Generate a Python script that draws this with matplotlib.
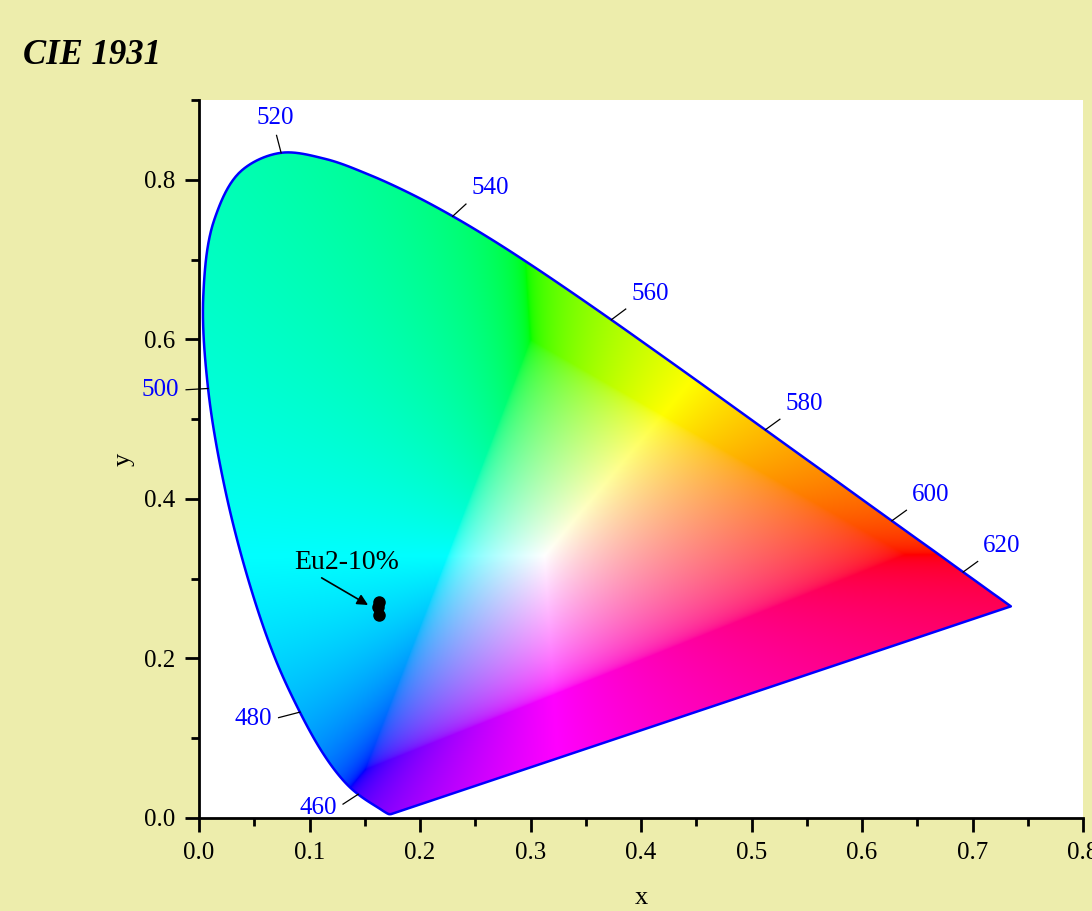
import numpy as np
import matplotlib
matplotlib.use("Agg")
import matplotlib.pyplot as plt
from matplotlib.patches import Polygon
from matplotlib.ticker import MultipleLocator

plt.rcParams["font.family"] = ["Liberation Serif", "DejaVu Serif"]

# CIE 1931 2-degree spectral locus, 380-700 nm in 5 nm steps
wavelengths = list(range(380, 705, 5))
locus_x = [0.1741, 0.1740, 0.1738, 0.1736, 0.1733, 0.1730, 0.1726, 0.1721,
           0.1714, 0.1703, 0.1689, 0.1669, 0.1644, 0.1611, 0.1566, 0.1510,
           0.1440, 0.1355, 0.1241, 0.1096, 0.0913, 0.0687, 0.0454, 0.0235,
           0.0082, 0.0039, 0.0139, 0.0389, 0.0743, 0.1142, 0.1547, 0.1929,
           0.2296, 0.2658, 0.3016, 0.3373, 0.3731, 0.4087, 0.4441, 0.4788,
           0.5125, 0.5448, 0.5752, 0.6029, 0.6270, 0.6482, 0.6658, 0.6801,
           0.6915, 0.7006, 0.7079, 0.7140, 0.7190, 0.7230, 0.7260, 0.7283,
           0.7300, 0.7311, 0.7320, 0.7327, 0.7334, 0.7340, 0.7344, 0.7346,
           0.7347]
locus_y = [0.0050, 0.0050, 0.0049, 0.0049, 0.0048, 0.0048, 0.0048, 0.0048,
           0.0051, 0.0058, 0.0069, 0.0086, 0.0109, 0.0138, 0.0177, 0.0227,
           0.0297, 0.0399, 0.0578, 0.0868, 0.1327, 0.2007, 0.2950, 0.4127,
           0.5384, 0.6548, 0.7502, 0.8120, 0.8338, 0.8262, 0.8059, 0.7816,
           0.7543, 0.7243, 0.6923, 0.6589, 0.6245, 0.5896, 0.5547, 0.5202,
           0.4866, 0.4544, 0.4242, 0.3965, 0.3725, 0.3514, 0.3340, 0.3197,
           0.3083, 0.2993, 0.2920, 0.2859, 0.2809, 0.2770, 0.2740, 0.2717,
           0.2700, 0.2689, 0.2680, 0.2673, 0.2666, 0.2660, 0.2656, 0.2654,
           0.2653]
label_wavelengths = [460, 480, 500, 520, 540, 560, 580, 600, 620]

# Measured chromaticity coordinates
sample_x = [0.163, 0.162, 0.163]
sample_y = [0.271, 0.265, 0.254]
sample_label = "Eu2-10%"

BG = "#EDEDAC"
W, H = 1092, 911


def catmull_rom(px, py, steps=12, alpha=0.5):
    """Centripetal Catmull-Rom path through the given points."""
    P = np.column_stack([px, py]).astype(float)
    P = np.vstack([2 * P[0] - P[1], P, 2 * P[-1] - P[-2]])
    out = [P[1]]
    for k in range(1, len(P) - 2):
        p0, p1, p2, p3 = P[k - 1], P[k], P[k + 1], P[k + 2]
        t0 = 0.0
        t1 = t0 + max(np.linalg.norm(p1 - p0), 1e-9) ** alpha
        t2 = t1 + max(np.linalg.norm(p2 - p1), 1e-9) ** alpha
        t3 = t2 + max(np.linalg.norm(p3 - p2), 1e-9) ** alpha
        for t in np.linspace(t1, t2, steps + 1)[1:]:
            a1 = (t1 - t) / (t1 - t0) * p0 + (t - t0) / (t1 - t0) * p1
            a2 = (t2 - t) / (t2 - t1) * p1 + (t - t1) / (t2 - t1) * p2
            a3 = (t3 - t) / (t3 - t2) * p2 + (t - t2) / (t3 - t2) * p3
            b1 = (t2 - t) / (t2 - t0) * a1 + (t - t0) / (t2 - t0) * a2
            b2 = (t3 - t) / (t3 - t1) * a2 + (t - t1) / (t3 - t1) * a3
            out.append((t2 - t) / (t2 - t1) * b1 + (t - t1) / (t2 - t1) * b2)
    return np.array(out)


fig = plt.figure(figsize=(W / 100, H / 100), dpi=100, facecolor=BG)
ax = fig.add_axes([199 / W, 1 - 818 / H, (1083 - 199) / W, (818 - 100) / H])
ax.set_xlim(0, 0.8)
ax.set_ylim(0, 0.9)
ax.set_facecolor("white")

# Colour field: xy -> XYZ (Y=1) -> linear sRGB, desaturated with white
# until in gamut, normalised, gamma encoded
gx = np.linspace(0, 0.8, 800)
gy = np.linspace(0, 0.9, 900)
GX, GY = np.meshgrid(gx, gy)
GYc = np.maximum(GY, 1e-3)
XYZ = np.stack([GX / GYc, np.ones_like(GX), (1 - GX - GY) / GYc], axis=-1)
M = np.array([[3.2406, -1.5372, -0.4986],
              [-0.9689, 1.8758, 0.0415],
              [0.0557, -0.2040, 1.0570]])
rgb = XYZ @ M.T
rgb = rgb - np.minimum(rgb.min(axis=-1, keepdims=True), 0)
rgb = rgb / np.clip(rgb.max(axis=-1, keepdims=True), 1e-9, None)
rgb = np.clip(rgb, 0, 1)
rgb = np.where(rgb <= 0.0031308, 12.92 * rgb, 1.055 * rgb ** (1 / 2.4) - 0.055)
rgb = np.clip(rgb, 0, 1)

im = ax.imshow(rgb, origin="lower", extent=(0, 0.8, 0, 0.9),
               interpolation="bilinear", aspect="auto", zorder=1)
outline = catmull_rom(locus_x, locus_y)
locus = Polygon(outline, closed=True, facecolor="none", edgecolor="#0000FF",
                lw=1.8, joinstyle="round", zorder=2)
ax.add_patch(locus)
im.set_clip_path(locus)

# Wavelength ticks and labels along the outward normal of the locus
trans = ax.transData
inv = trans.inverted()
lx = np.array(locus_x)
ly = np.array(locus_y)
for wl in label_wavelengths:
    i = wavelengths.index(wl)
    tx = lx[i + 1] - lx[i - 1]
    ty = ly[i + 1] - ly[i - 1]
    nd = np.array([-ty, tx]) / np.hypot(tx, ty)
    p0 = trans.transform((lx[i], ly[i]))
    p1 = trans.transform((lx[i] + nd[0] * 1e-3, ly[i] + nd[1] * 1e-3))
    n = (p1 - p0) / np.hypot(*(p1 - p0))
    tick_len = 18 if n[0] > -0.95 else 22
    end = inv.transform(p0 + n * tick_len)
    ax.plot([lx[i], end[0]], [ly[i], end[1]], color="black", lw=0.9,
            clip_on=False, zorder=3)
    ha = "left" if n[0] > 0.5 else ("right" if n[0] < -0.5 else "center")
    va = "bottom" if n[1] > 0.5 else ("top" if n[1] < -0.7 else "center")
    dist = tick_len + 7
    ax.annotate(str(wl), xy=(lx[i], ly[i]), xytext=(n[0] * dist, n[1] * dist),
                textcoords="offset pixels", ha=ha, va=va, color="#0000FF",
                fontsize=18, annotation_clip=False, zorder=4)

# Sample points and annotation
ax.plot(sample_x, sample_y, "o", color="black", markersize=8, zorder=5)
ax.annotate("", xy=(0.153, 0.267), xytext=(0.111, 0.301),
            arrowprops=dict(arrowstyle="-|>", color="black", lw=1.2,
                            mutation_scale=16, shrinkA=0, shrinkB=0), zorder=5)
ax.text(0.1335, 0.312, sample_label, ha="center", va="baseline",
        fontsize=20, color="black", zorder=5)

# Axes styling
for side in ("top", "right"):
    ax.spines[side].set_visible(False)
for side in ("left", "bottom"):
    ax.spines[side].set_linewidth(2)
ax.xaxis.set_major_locator(MultipleLocator(0.1))
ax.xaxis.set_minor_locator(MultipleLocator(0.05))
ax.yaxis.set_major_locator(MultipleLocator(0.2))
ax.yaxis.set_minor_locator(MultipleLocator(0.1))
ax.tick_params(which="major", direction="out", length=10, width=2,
               labelsize=18, pad=7)
ax.tick_params(which="minor", direction="out", length=6, width=2)
ax.set_xlabel("x", fontsize=19, labelpad=17)
ax.set_ylabel("y", fontsize=19, labelpad=7)

fig.text(23 / W, 1 - 63.5 / H, "CIE 1931", fontsize=25, fontweight="bold",
         fontstyle="italic", ha="left", va="baseline")

fig.savefig("out.png", dpi=100, facecolor=BG)
